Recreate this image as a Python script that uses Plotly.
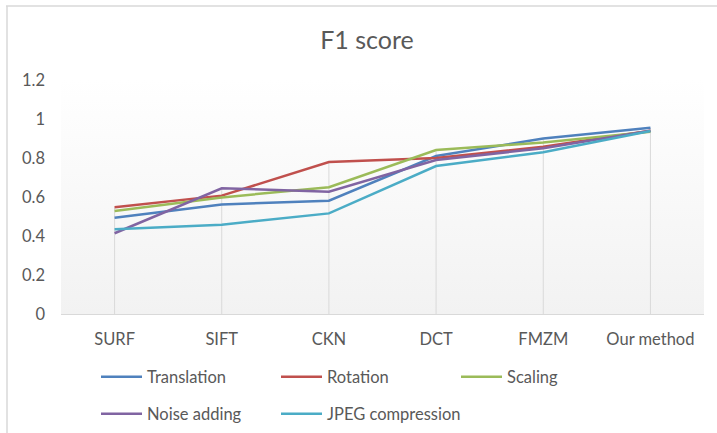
import plotly.graph_objects as go

categories = ["SURF", "SIFT", "CKN", "DCT", "FMZM", "Our method"]
translation = [0.494, 0.562, 0.581, 0.810, 0.900, 0.955]
rotation = [0.547, 0.607, 0.779, 0.800, 0.858, 0.940]
scaling = [0.528, 0.598, 0.650, 0.841, 0.880, 0.935]
noise_adding = [0.414, 0.645, 0.627, 0.790, 0.850, 0.940]
jpeg_compression = [0.434, 0.458, 0.516, 0.759, 0.830, 0.938]
y_ticks = [0, 0.2, 0.4, 0.6, 0.8, 1, 1.2]

series_names = ["Translation", "Rotation", "Scaling", "Noise adding", "JPEG compression"]
series_values = [translation, rotation, scaling, noise_adding, jpeg_compression]
series_colors = ["#4F81BD", "#C0504D", "#9BBB59", "#8064A2", "#4BACC6"]

xs = list(range(len(categories)))
font = "Lato, 'Open Sans', sans-serif"
grey = "#595959"

fig = go.Figure()

# plot-area gradient background
fig.add_trace(go.Scatter(
    x=[-0.5, len(categories) - 0.5, len(categories) - 0.5, -0.5, -0.5],
    y=[0, 0, y_ticks[-1], y_ticks[-1], 0],
    mode="lines", line=dict(width=0), fill="toself",
    fillgradient=dict(type="vertical", colorscale=[[0, "#f2f2f2"], [1, "#ffffff"]]),
    showlegend=False, hoverinfo="skip",
))

# drop lines
dx, dy = [], []
for i in xs:
    top = max(v[i] for v in series_values)
    dx += [i, i, None]
    dy += [0, top, None]
fig.add_trace(go.Scatter(x=dx, y=dy, mode="lines",
                         line=dict(color="#d9d9d9", width=1),
                         showlegend=False, hoverinfo="skip"))

W, H = 717, 433
L, R, T, B = 61, 13, 80, 119
pw, ph = W - L - R, H - T - B

def px_x(p):
    return (p - L) / pw

def px_y(p):
    return (H - B - p) / ph

# legend layout: 3 columns, 2 rows (pixel positions)
col_x = [96, 276, 456]
row_y = [377, 414]

legend_common = dict(orientation="v", font=dict(family=font, size=16.5, color=grey),
                     itemwidth=41, xanchor="left", yanchor="middle",
                     xref="container", yref="container",
                     bgcolor="rgba(0,0,0,0)",
                     itemclick=False, itemdoubleclick=False)

legends = {}
for k, (name, vals, color) in enumerate(zip(series_names, series_values, series_colors)):
    lid = "legend" if k == 0 else f"legend{k + 1}"
    fig.add_trace(go.Scatter(x=xs, y=vals, mode="lines", name=name,
                             line=dict(color=color, width=2.5), legend=lid))
    legends[lid] = dict(x=col_x[k % 3] / W, y=1 - row_y[k // 3] / H, **legend_common)

fig.update_layout(
    width=W, height=H,
    margin=dict(l=L, r=R, t=T, b=B, autoexpand=False),
    paper_bgcolor="white", plot_bgcolor="white",
    font=dict(family=font, color=grey),
    title=dict(text="F1 score", font=dict(family=font, size=25, color=grey),
               x=367 / W, xanchor="center", xref="container",
               y=1 - 40 / H, yanchor="middle", yref="container"),
    xaxis=dict(range=[-0.5, len(categories) - 0.5], tickvals=xs, ticktext=categories,
               showgrid=False, zeroline=False, showline=True, linecolor="#d9d9d9",
               linewidth=1, ticks="", tickfont=dict(family=font, size=16.5, color=grey),
               ticklabelstandoff=10, automargin=False, fixedrange=True),
    yaxis=dict(range=[0, 1.2], tickvals=y_ticks, showgrid=False, zeroline=False,
               showline=False, ticks="", tickfont=dict(family=font, size=16.5, color=grey),
               ticklabelstandoff=15, automargin=False, fixedrange=True),
    shapes=[
        dict(type="line", xref="paper", yref="paper",
             x0=px_x(6), x1=px_x(W + 5), y0=px_y(6), y1=px_y(6),
             line=dict(color="#d9d9d9", width=1.5)),
        dict(type="line", xref="paper", yref="paper",
             x0=px_x(7), x1=px_x(7), y0=px_y(6), y1=px_y(H + 5),
             line=dict(color="#d9d9d9", width=1.5)),
    ],
    **legends,
)

fig.write_html("out.html", config={"displayModeBar": False},
               post_script="document.body.style.margin='0';document.body.style.overflow='hidden';")
